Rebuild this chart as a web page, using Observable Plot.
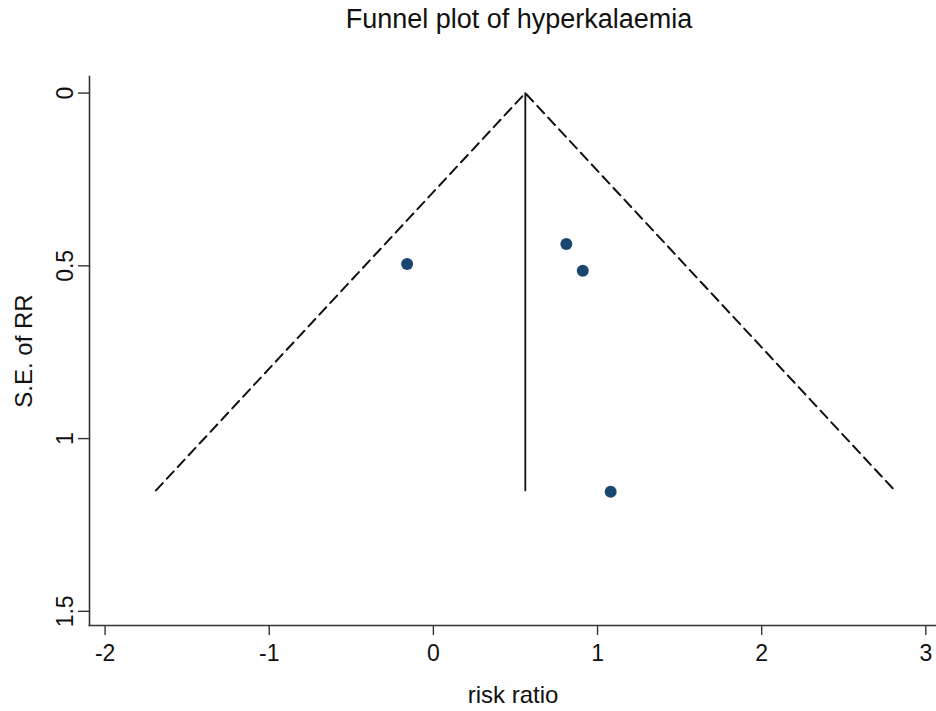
<!DOCTYPE html>
<html>
<head>
<meta charset="utf-8">
<script src="https://cdn.jsdelivr.net/npm/d3@7"></script>
<script src="https://cdn.jsdelivr.net/npm/@observablehq/plot@0.6"></script>
<style>
  body { margin: 0; background: #fff; font-family: "Liberation Sans", Arial, Helvetica, sans-serif; }
  #title {
    width: 936px; height: 45px; box-sizing: border-box;
    padding: 6px 0 0 102px; text-align: center;
    font-size: 27px; line-height: 27px; color: #111;
  }
  #chart svg { display: block; }
</style>
</head>
<body>
<div id="title">Funnel plot of hyperkalaemia</div>
<div id="chart"></div>
<script>
// Individual studies: effect estimate and its standard error
const studyRR = [-0.16, 0.81, 0.91, 1.08];
const studySE = [0.495, 0.437, 0.514, 1.154];

// Pooled estimate and the pseudo 95% confidence limits of the funnel
const pooledRR = 0.56;
const pooledSE = [0, 1.15];
const funnelRR = [-1.69, 0.56, 2.81];
const funnelSE = [1.15, 0, 1.15];

// Axis ticks
const xTicks = [-2, -1, 0, 1, 2, 3];
const xTickLabels = ["-2", "-1", "0", "1", "2", "3"];
const yTicks = [0, 0.5, 1, 1.5];
const yTickLabels = ["0", "0.5", "1", "1.5"];

const studies = studyRR.map((rr, i) => ({rr, se: studySE[i]}));
const funnel = funnelRR.map((rr, i) => ({rr, se: funnelSE[i]}));
const pooled = pooledSE.map(se => ({rr: pooledRR, se}));
const yLabels = yTicks.map((v, i) => ({v, label: yTickLabels[i]}));

const axisColor = "#333";
const font = "'Liberation Sans', Arial, Helvetica, sans-serif";

const chart = Plot.plot({
  width: 936,
  height: 666,
  marginLeft: 89,
  marginRight: 0,
  marginTop: 31,
  marginBottom: 86,
  style: {fontFamily: font, background: "#fff", color: "#111"},
  x: {domain: [-2.095, 3.065]},
  y: {domain: [-0.048, 1.541], reverse: true},
  marks: [
    Plot.frame({anchor: "left", stroke: axisColor, strokeWidth: 1.6}),
    Plot.frame({anchor: "bottom", stroke: axisColor, strokeWidth: 1.6}),
    Plot.axisX({
      ticks: xTicks, tickSize: 10, tickPadding: 9,
      tickFormat: d => xTickLabels[xTicks.indexOf(d)],
      fontSize: 23, label: null, stroke: axisColor, strokeWidth: 1.4, fill: "#111"
    }),
    Plot.axisY({
      ticks: yTicks, tickSize: 11, tickFormat: () => "",
      label: null, stroke: axisColor, strokeWidth: 1.4
    }),
    Plot.text(yLabels, {
      y: "v", text: "label", frameAnchor: "left", rotate: -90,
      dx: -17, textAnchor: "middle", lineAnchor: "bottom",
      fontSize: 23, fill: "#111"
    }),
    Plot.text(["S.E. of RR"], {
      frameAnchor: "left", rotate: -90, dx: -65,
      textAnchor: "middle", lineAnchor: "middle", fontSize: 24, fill: "#111"
    }),
    Plot.text(["risk ratio"], {
      frameAnchor: "bottom", dy: 77, textAnchor: "middle",
      lineAnchor: "bottom", fontSize: 24, fill: "#111"
    }),
    Plot.line(funnel, {
      x: "rr", y: "se", stroke: "#111", strokeWidth: 2,
      strokeDasharray: "10,6", strokeLinejoin: "miter"
    }),
    Plot.line(pooled, {x: "rr", y: "se", stroke: "#111", strokeWidth: 1.8}),
    Plot.dot(studies, {x: "rr", y: "se", r: 6, fill: "#1a476f", stroke: "none"})
  ]
});

document.getElementById("chart").appendChild(chart);
</script>
</body>
</html>
